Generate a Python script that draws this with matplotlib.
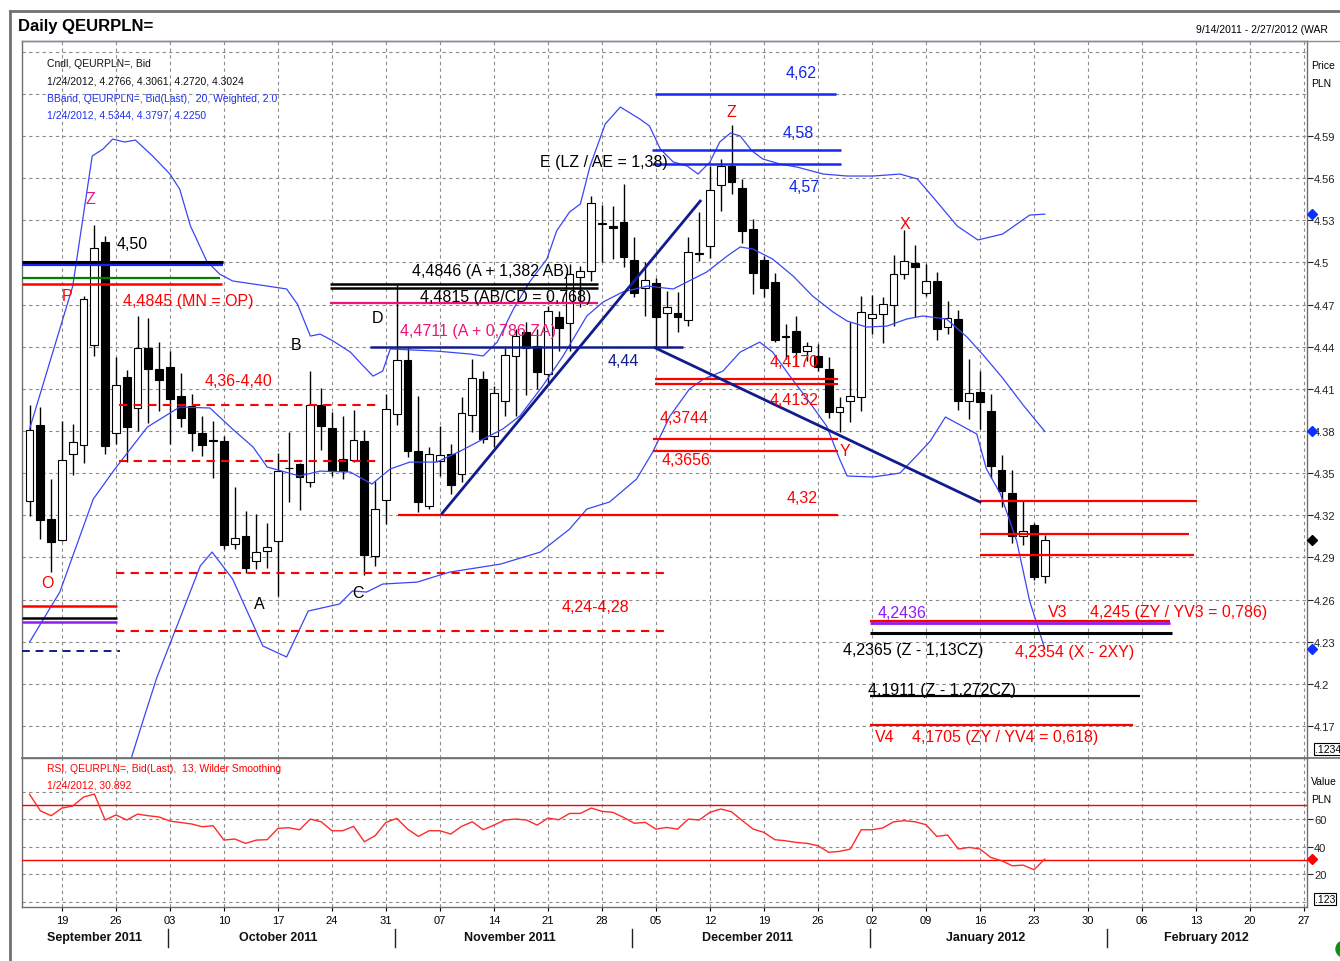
import matplotlib
matplotlib.use("Agg")
import matplotlib.pyplot as plt
import matplotlib.transforms as mtransforms
from matplotlib.lines import Line2D
from matplotlib.patches import Ellipse
import numpy as np
import pandas as pd

plt.rcParams['font.family'] = ['Liberation Sans', 'DejaVu Sans']

# ---------------- data ----------------
first_day, last_day, axis_end = '2011-09-14', '2012-01-24', '2012-02-27'

opens = [4.3304, 4.3843, 4.3174, 4.3026, 4.3636, 4.3703, 4.4414, 4.5147, 4.3784, 4.4187,
         4.3964, 4.4391, 4.4241, 4.4256, 4.4051, 4.3978, 4.3786, 4.3733, 4.3731, 4.2996,
         4.3053, 4.2875, 4.2946, 4.3019, 4.3537, 4.3565, 4.3437, 4.3985, 4.3821, 4.3601,
         4.3596, 4.3731, 4.2910, 4.3311, 4.3921, 4.4307, 4.3656, 4.3268, 4.3584, 4.3636,
         4.3494, 4.3914, 4.4170, 4.3767, 4.4011, 4.4336, 4.4503, 4.4403, 4.4206, 4.4609,
         4.4569, 4.4898, 4.4941, 4.5275, 4.5261, 4.5290, 4.5017, 4.4816, 4.4853, 4.4638,
         4.4640, 4.4588, 4.5068, 4.5115, 4.5553, 4.5684, 4.5530, 4.5238, 4.5019, 4.4863,
         4.4477, 4.4514, 4.4369, 4.4336, 4.4241, 4.3935, 4.4014, 4.4042, 4.4604, 4.4636,
         4.4697, 4.4921, 4.4996, 4.4782, 4.4868, 4.4539, 4.4600, 4.4015, 4.4080, 4.3946,
         4.3521, 4.3361, 4.3055, 4.3132, 4.2766]
highs = [4.3985, 4.3973, 4.3458, 4.3873, 4.3850, 4.4761, 4.5268, 4.5190, 4.4325, 4.4236,
         4.4621, 4.4604, 4.4433, 4.4372, 4.4213, 4.4063, 4.3909, 4.3873, 4.3767, 4.3404,
         4.3233, 4.3209, 4.3145, 4.3643, 4.3795, 4.3575, 4.4229, 4.4106, 4.3935, 4.3909,
         4.3950, 4.3809, 4.3446, 4.4063, 4.4839, 4.4398, 4.4047, 4.3686, 4.3838, 4.3708,
         4.4040, 4.4312, 4.4229, 4.4122, 4.4391, 4.4526, 4.4574, 4.4526, 4.4692, 4.4654,
         4.4989, 4.4977, 4.5475, 4.5408, 4.5403, 4.5558, 4.5179, 4.5001, 4.4889, 4.4799,
         4.4787, 4.5179, 4.5357, 4.5688, 4.5736, 4.5980, 4.5594, 4.5309, 4.5048, 4.4922,
         4.4562, 4.4616, 4.4433, 4.4419, 4.4325, 4.4042, 4.4575, 4.4761, 4.4768, 4.4754,
         4.5056, 4.5234, 4.5124, 4.4989, 4.4932, 4.4727, 4.4663, 4.4315, 4.4226, 4.4065,
         4.3633, 4.3521, 4.3303, 4.3145, 4.3061]
lows = [4.3197, 4.3031, 4.2794, 4.3020, 4.3487, 4.3570, 4.4334, 4.3636, 4.3708, 4.3579,
        4.3802, 4.3857, 4.3945, 4.3708, 4.3829, 4.3660, 4.3622, 4.3466, 4.2960, 4.2960,
        4.2789, 4.2818, 4.2825, 4.2628, 4.3295, 4.3238, 4.3401, 4.3667, 4.3482, 4.3458,
        4.3579, 4.2775, 4.2841, 4.3138, 4.3843, 4.3615, 4.3226, 4.3245, 4.3482, 4.3352,
        4.3435, 4.3791, 4.3712, 4.3684, 4.3909, 4.3909, 4.4058, 4.4099, 4.4140, 4.4367,
        4.4372, 4.4681, 4.4870, 4.5001, 4.5024, 4.4965, 4.4752, 4.4621, 4.4391, 4.4391,
        4.4502, 4.4547, 4.5008, 4.5031, 4.5368, 4.5487, 4.5136, 4.4775, 4.4756, 4.4436,
        4.4312, 4.4265, 4.4300, 4.4229, 4.3890, 4.3793, 4.3864, 4.3942, 4.4490, 4.4426,
        4.4551, 4.4882, 4.4615, 4.4761, 4.4448, 4.4493, 4.3951, 4.3888, 4.3818, 4.3463,
        4.3259, 4.3005, 4.2992, 4.2737, 4.2720]
closes = [4.3809, 4.3169, 4.3008, 4.3596, 4.3724, 4.4740, 4.5100, 4.3695, 4.4127, 4.3831,
          4.4391, 4.4241, 4.4165, 4.4028, 4.3893, 4.3786, 4.3700, 4.3730, 4.2989, 4.3041,
          4.2825, 4.2939, 4.2977, 4.3517, 4.3535, 4.3473, 4.3985, 4.3836, 4.3517, 4.3517,
          4.3736, 4.2917, 4.3245, 4.3957, 4.4307, 4.3658, 4.3297, 4.3636, 4.3629, 4.3418,
          4.3926, 4.4177, 4.3743, 4.4070, 4.4341, 4.4478, 4.4391, 4.4222, 4.4652, 4.4533,
          4.4917, 4.4941, 4.5423, 4.5280, 4.5245, 4.5036, 4.4782, 4.4877, 4.4609, 4.4680,
          4.4609, 4.5072, 4.5062, 4.5515, 4.5684, 4.5574, 4.5226, 4.4925, 4.4818, 4.4450,
          4.4470, 4.4360, 4.4405, 4.4254, 4.3933, 4.3974, 4.4049, 4.4647, 4.4633, 4.4704,
          4.4921, 4.5012, 4.4971, 4.4868, 4.4523, 4.4602, 4.4015, 4.4073, 4.4004, 4.3552,
          4.3374, 4.3055, 4.3089, 4.2763, 4.3024]

rsi = [78, 66, 62.4, 68, 69.5, 76, 78.2, 59.3, 63, 59.3,
       63.6, 62.4, 61.5, 58.5, 57.5, 56.4, 54.4, 55.1, 44.7, 45.5,
       42.3, 44.7, 45, 53.2, 53.7, 52.2, 60, 58, 51.5, 51.5,
       54.7, 43.5, 47.9, 57.6, 60.5, 52.7, 47.4, 51.5, 51.5, 49.1,
       54.7, 58, 52.2, 55.6, 59.3, 60, 59.3, 55.6, 60.7, 59.5,
       64.1, 64.1, 68, 65.6, 64.9, 61.2, 56.9, 57.6, 52.7, 53.9,
       52.7, 60, 59.3, 64.9, 67.3, 65.3, 58.8, 52.7, 50.3, 45,
       44.2, 43, 42.3, 40.6, 35.8, 36.5, 38.2, 52.2, 52.2, 53.5,
       58, 58.8, 58, 55.9, 47.4, 48.4, 38.2, 39.4, 38.2, 32.1,
       29.7, 26, 26.5, 23.1, 30.892]

# Bollinger bands (trading-day index, price)
bb_upper_x = [0, 2.8, 4.0, 5.8, 6.8, 7.7, 8.8, 9.8, 11.4, 13.0, 13.9, 14.9, 16.4, 17.6, 18.8,
              22.0, 23.8, 24.8, 26.0, 26.9, 28.1, 29.7, 30.9, 31.8, 32.7, 33.4, 37.7, 40.8,
              42.0, 43.3, 44.8, 46.3, 47.9, 48.8, 50.0, 51.0, 51.9, 53.3, 54.7, 56.5, 57.4,
              58.4, 59.6, 60.9, 61.9, 63.0, 63.9, 64.9, 65.8, 66.9, 67.9, 69.5, 71.1, 73.5,
              75.7, 78.1, 80.6, 82.2, 83.8, 85.9, 87.8, 90.1, 92.6, 94.0]
bb_upper = [4.3814, 4.4526, 4.4832, 4.5757, 4.5807, 4.5878, 4.5857, 4.5871, 4.5757, 4.5629,
            4.5522, 4.5259, 4.5010, 4.4917, 4.4868, 4.4832, 4.4811, 4.4704, 4.4476, 4.4490,
            4.4441, 4.4362, 4.4263, 4.4191, 4.4227, 4.4384, 4.4369, 4.4348, 4.4334, 4.4433,
            4.4668, 4.4861, 4.5024, 4.5224, 4.5359, 4.5416, 4.5686, 4.5985, 4.6106, 4.6021,
            4.5971, 4.5807, 4.5715, 4.5686, 4.5629, 4.5715, 4.5857, 4.5921, 4.5900, 4.5793,
            4.5736, 4.5700, 4.5678, 4.5629, 4.5615, 4.5615, 4.5629, 4.5594, 4.5451, 4.5259,
            4.5160, 4.5202, 4.5337, 4.5344]
bb_mid_x = [0, 2.8, 5.9, 7.9, 10.9, 13.9, 16.7, 18.8, 20.7, 22.0, 25.0, 26.9, 29.7, 31.7,
            33.4, 35.2, 37.7, 39.9, 42.0, 43.8, 45.4, 47.5, 49.4, 51.6, 53.1, 54.9, 57.2,
            59.6, 62.7, 64.6, 65.8, 67.0, 68.8, 70.7, 72.5, 74.4, 75.7, 77.5, 79.4, 81.2,
            82.7, 84.9, 86.8, 88.3, 90.1, 92.0, 94.0]
bb_mid = [4.2298, 4.2654, 4.3316, 4.3530, 4.3828, 4.3971, 4.3964, 4.3814, 4.3686, 4.3544,
          4.3480, 4.3515, 4.3508, 4.3423, 4.3530, 4.3579, 4.3579, 4.3658, 4.3743, 4.3814,
          4.3907, 4.4120, 4.4334, 4.4619, 4.4718, 4.4789, 4.4832, 4.4811, 4.4932, 4.5046,
          4.5110, 4.5095, 4.5024, 4.4903, 4.4761, 4.4647, 4.4583, 4.4540, 4.4547, 4.4597,
          4.4619, 4.4597, 4.4469, 4.4341, 4.4177, 4.3985, 4.3797]
bb_lower_x = [9.1, 10.7, 11.8, 13.9, 15.8, 16.9, 18.8, 21.6, 23.8, 25.8, 28.7, 29.9, 31.2,
              32.7, 35.9, 37.4, 38.9, 43.6, 47.3, 50.0, 51.6, 53.7, 56.2, 57.7, 59.3, 61.1,
              62.4, 64.2, 65.8, 67.6, 68.8, 70.4, 72.0, 73.8, 75.0, 75.7, 78.1, 80.6, 82.2,
              83.4, 84.8, 87.7, 88.6, 89.9, 91.4, 92.6, 94.0]
bb_lower = [4.1395, 4.1786, 4.2049, 4.2462, 4.2839, 4.2939, 4.2747, 4.2270, 4.2192, 4.2519,
            4.2569, 4.2662, 4.2654, 4.2711, 4.2725, 4.2761, 4.2796, 4.2853, 4.2939, 4.3102,
            4.3245, 4.3295, 4.3458, 4.3651, 4.3907, 4.4099, 4.4170, 4.4227, 4.4362, 4.4433,
            4.4362, 4.4191, 4.4028, 4.3836, 4.3601, 4.3480, 4.3473, 4.3501, 4.3629, 4.3729,
            4.3900, 4.3779, 4.3530, 4.3352, 4.3017, 4.2590, 4.2250]

price_ticks = [4.17, 4.20, 4.23, 4.26, 4.29, 4.32, 4.35, 4.38, 4.41, 4.44, 4.47, 4.50, 4.53, 4.56, 4.59]
price_grid_extra = [4.62, 4.65]
rsi_ticks = [20, 40, 60]
rsi_grid_extra = [0, 80]
rsi_levels = [70, 30]
last_bb = [4.5344, 4.3797, 4.2250]
last_close = 4.3024
last_rsi = 30.892

# annotation levels: (price, from day, to day)
lvl_left_black = (4.5006, -0.7, 17.9)
lvl_left_blue = (4.4981, -0.7, 17.9)
lvl_left_green = (4.4891, -0.7, 17.6)
lvl_left_red = (4.4845, -0.7, 17.8)
lvl_bl_red = (4.2553, -0.7, 8.1)
lvl_bl_black = (4.2467, -0.7, 8.1)
lvl_bl_purple = (4.2443, -0.7, 8.1)
lvl_bl_navy = (4.2232, -0.7, 8.4)
zone1 = (4.3985, 4.3584, 8.3, 32.4)
zone2 = (4.2789, 4.2379, 8.0, 59.3)
lvl_ab1 = (4.4846, 27.8, 52.6)
lvl_ab2 = (4.4815, 27.8, 52.6)
lvl_za = (4.4711, 27.8, 52.6)
lvl_444 = (4.44, 31.5, 60.5)
lvl_blue = [(4.62, 57.9, 74.7), (4.58, 57.6, 75.1), (4.57, 57.6, 75.1)]
lvl_red_mid = [(4.4170, 57.9, 74.9), (4.4132, 57.9, 74.9), (4.3744, 57.7, 74.9),
               (4.3656, 57.7, 74.9), (4.32, 34.1, 74.9)]
lvl_red_right = [(4.3304, 88.0, 108.1), (4.3070, 88.0, 107.4), (4.2917, 88.0, 107.8)]
lvl_v3 = (4.245, 77.8, 105.6)
lvl_2436 = (4.2436, 77.8, 105.6)
lvl_2365 = (4.2365, 77.8, 105.8)
lvl_1911 = (4.1911, 77.8, 102.8)
lvl_1705 = (4.1705, 77.8, 102.2)
trend_up = ([38.2, 62.1], [4.3214, 4.5437])
trend_down = ([57.9, 88.0], [4.4393, 4.3295])

RED = '#FF0000'
PINK = '#F0147A'
NAVY = '#101C8C'
BLUE = '#1428F0'
BB = '#3A46F5'
PURPLE = '#8E1CF5'
GRID = '#8C8C8C'

# ---------------- figure ----------------
W, H = 1340, 962
fig = plt.figure(figsize=(W / 100, H / 100), dpi=100)


def rect(l, t, r, b):
    return [l / W, 1 - b / H, (r - l) / W, (b - t) / H]


ax = fig.add_axes(rect(22, 42, 1307, 759))
ax2 = fig.add_axes(rect(22, 759, 1307, 908), sharex=ax)

days = pd.bdate_range(first_day, last_day)
axis_days = pd.bdate_range(first_day, axis_end)
x = np.arange(len(days))
o = np.array(opens); h = np.array(highs); l = np.array(lows); c = np.array(closes)

ax.set_xlim(-0.7, len(axis_days) - 1 + 0.28)
ax.set_ylim(4.1473, 4.6576)
ax2.set_ylim(-3.96, 104.4)

# grid
mondays = [i for i, d in enumerate(axis_days) if d.weekday() == 0]
for a in (ax, ax2):
    a.set_xticks(mondays)
    a.grid(True, color=GRID, ls=(0, (3, 3)), lw=0.8, zorder=0)
    a.set_axisbelow(True)
    for s in a.spines.values():
        s.set_color('#707070')
        s.set_linewidth(1.0)
ax.set_yticks(price_ticks)
ax.set_yticklabels(['{:g}'.format(round(v, 2)) for v in price_ticks])
for g in price_grid_extra:
    ax.axhline(g, color=GRID, ls=(0, (3, 3)), lw=0.8, zorder=0)
ax2.set_yticks(rsi_ticks)
for g in rsi_grid_extra:
    ax2.axhline(g, color=GRID, ls=(0, (3, 3)), lw=0.8, zorder=0)

for a in (ax, ax2):
    a.yaxis.tick_right()
    a.tick_params(axis='y', labelsize=8, length=4, pad=1, colors='#222222')
ax.tick_params(axis='x', length=0, labelbottom=False)
ax2.tick_params(axis='x', labelsize=8, length=3, pad=3)
ax2.set_xticklabels([axis_days[i].strftime('%d') for i in mondays])
ax.spines['bottom'].set_visible(False)

# candles
up = c >= o
ax.vlines(x, l, h, color='black', lw=1.0, zorder=3)
body = np.maximum(np.abs(c - o), 0.0005)
ax.bar(x, body, bottom=np.minimum(o, c), width=0.72,
       color=np.where(up, 'white', 'black'), edgecolor='black', lw=0.8, zorder=3.5)

# bollinger
ax.plot(bb_upper_x, bb_upper, color=BB, lw=0.9, zorder=4)
ax.plot(bb_mid_x, bb_mid, color=BB, lw=0.9, zorder=4)
ax.plot(bb_lower_x, bb_lower, color=BB, lw=0.9, zorder=4)


def hl(level, color, lw=1.6, ls='-'):
    p, a, b = level
    ax.plot([a, b], [p, p], color=color, lw=lw, ls=ls, zorder=5, solid_capstyle='butt')


hl(lvl_left_black, 'black', 2.2)
hl(lvl_left_blue, BLUE, 1.6)
hl(lvl_left_green, '#008000', 1.6)
hl(lvl_left_red, RED, 1.8)
hl(lvl_bl_red, RED, 1.8)
hl(lvl_bl_black, 'black', 1.8)
hl(lvl_bl_purple, PURPLE, 1.8)
hl(lvl_bl_navy, NAVY, 1.4, (0, (4, 3)))
for z in (zone1, zone2):
    hl((z[0], z[2], z[3]), RED, 1.5, (0, (4, 3)))
    hl((z[1], z[2], z[3]), RED, 1.5, (0, (4, 3)))
hl(lvl_ab1, 'black', 1.8)
hl(lvl_ab2, 'black', 1.8)
hl(lvl_za, PINK, 1.6)
hl(lvl_444, NAVY, 1.8)
for lv in lvl_blue:
    hl(lv, BLUE, 1.8)
for lv in lvl_red_mid:
    hl(lv, RED, 1.6)
for lv in lvl_red_right:
    hl(lv, RED, 1.6)
hl(lvl_2365, 'black', 2.2)
hl(lvl_2436, PURPLE, 2.0)
hl(lvl_v3, RED, 1.6)
hl(lvl_1911, 'black', 1.6)
hl(lvl_1705, RED, 1.6)
ax.plot(*trend_up, color=NAVY, lw=2.0, zorder=5)
ax.plot(*trend_down, color=NAVY, lw=2.0, zorder=5)

FS = 11.5
texts = [
    (8.09, 4.5138, '4,50', 'black', 'left'),
    (8.65, 4.4732, '4,4845 (MN = OP)', RED, 'left'),
    (3.46, 4.4768, 'P', RED, 'center'),
    (5.59, 4.5458, 'Z', PINK, 'center'),
    (1.61, 4.2725, 'O', RED, 'center'),
    (16.24, 4.4163, '4,36-4,40', RED, 'left'),
    (24.67, 4.4419, 'B', 'black', 'center'),
    (21.24, 4.2576, 'A', 'black', 'center'),
    (30.41, 4.2654, 'C', 'black', 'center'),
    (32.26, 4.4611, 'D', 'black', 'center'),
    (35.41, 4.4946, '4,4846 (A + 1,382 AB)', 'black', 'left'),
    (36.15, 4.4761, '4,4815 (AB/CD = 0,768)', 'black', 'left'),
    (34.30, 4.4519, '4,4711 (A + 0,786 ZA)', PINK, 'left'),
    (53.56, 4.4305, '4,44', NAVY, 'left'),
    (47.26, 4.5715, 'E (LZ / AE = 1,38)', 'black', 'left'),
    (70.04, 4.6355, '4,62', BLUE, 'left'),
    (64.94, 4.6077, 'Z', RED, 'center'),
    (69.76, 4.5928, '4,58', BLUE, 'left'),
    (70.31, 4.5544, '4,57', BLUE, 'left'),
    (81.06, 4.5280, 'X', RED, 'center'),
    (68.56, 4.4298, '4,4170', RED, 'left'),
    (68.56, 4.4021, '4,4132', RED, 'left'),
    (58.37, 4.3893, '4,3744', RED, 'left'),
    (58.56, 4.3595, '4,3656', RED, 'left'),
    (75.50, 4.3659, 'Y', RED, 'center'),
    (70.13, 4.3330, '4,32', RED, 'left'),
    (49.30, 4.2548, '4,24-4,28', RED, 'left'),
    (78.56, 4.2506, '4,2436', PURPLE, 'left'),
    (94.30, 4.2513, 'V3', RED, 'left'),
    (98.19, 4.2513, '4,245 (ZY / YV3 = 0,786)', RED, 'left'),
    (75.31, 4.2247, '4,2365 (Z - 1,13CZ)', 'black', 'left'),
    (91.24, 4.2233, '4,2354 (X - 2XY)', RED, 'left'),
    (77.63, 4.1964, '4,1911 (Z - 1,272CZ)', 'black', 'left'),
    (78.26, 4.1623, 'V4', RED, 'left'),
    (81.70, 4.1623, '4,1705 (ZY / YV4 = 0,618)', RED, 'left'),
]
for tx, ty, s, col, ha in texts:
    ax.text(tx, ty, s, color=col, fontsize=FS, ha=ha, va='center', zorder=6)


# legend texts
def fx(px):
    return px / W


def fy(py):
    return 1 - py / H


fig.text(fx(47), fy(64), 'Cndl, QEURPLN=, Bid', fontsize=7.5, va='center', color='#111111')
fig.text(fx(47), fy(82), '1/24/2012, 4.2766, 4.3061, 4.2720, 4.3024', fontsize=7.5, va='center', color='#111111')
fig.text(fx(47), fy(99), 'BBand, QEURPLN=, Bid(Last),  20, Weighted, 2.0', fontsize=7.5, va='center', color='#2030F0')
fig.text(fx(47), fy(116), '1/24/2012, 4.5344, 4.3797, 4.2250', fontsize=7.5, va='center', color='#2030F0')
fig.text(fx(47), fy(769), 'RSI, QEURPLN=, Bid(Last),  13, Wilder Smoothing', fontsize=7.5, va='center', color=RED)
fig.text(fx(47), fy(786), '1/24/2012, 30.892', fontsize=7.5, va='center', color=RED)

fig.text(fx(18), fy(27), 'Daily QEURPLN=', fontsize=12, fontweight='bold', va='center')
fig.text(fx(1196), fy(30), '9/14/2011 - 2/27/2012 (WAR', fontsize=7.5, va='center')
fig.text(fx(1311), fy(66), 'Price', fontsize=7.5, va='center')
fig.text(fx(1311), fy(84), 'PLN', fontsize=7.5, va='center')
fig.text(fx(1311), fy(782), 'Value', fontsize=7.5, va='center')
fig.text(fx(1311), fy(800), 'PLN', fontsize=7.5, va='center')
fig.text(fx(1315), fy(750), '.1234', fontsize=7.5, va='center',
         bbox=dict(boxstyle='square,pad=0.1', fc='white', ec='black', lw=0.8))
fig.text(fx(1315), fy(900), '.123', fontsize=7.5, va='center',
         bbox=dict(boxstyle='square,pad=0.1', fc='white', ec='black', lw=0.8))

# right-axis markers
tr = mtransforms.blended_transform_factory(ax.transAxes, ax.transData)
ax.plot([1.004] * 3, last_bb, 'D', color='#1030FF', ms=5, transform=tr, clip_on=False, zorder=7)
ax.plot([1.004], [last_close], 'D', color='black', ms=5, transform=tr, clip_on=False, zorder=7)
tr2 = mtransforms.blended_transform_factory(ax2.transAxes, ax2.transData)
ax2.plot([1.004], [last_rsi], 'D', color=RED, ms=5, transform=tr2, clip_on=False, zorder=7)

# RSI
ax2.plot(x, rsi, color='#FF2A2A', lw=1.0, zorder=4)
for lv in rsi_levels:
    ax2.axhline(lv, color=RED, lw=1.0, zorder=3)

# month labels and separators
trm = mtransforms.blended_transform_factory(ax2.transData, fig.transFigure)
months = pd.Series(np.arange(len(axis_days)), index=axis_days)
groups = months.groupby([axis_days.year, axis_days.month])
for k, (key, grp) in enumerate(groups):
    centre = (grp.values.min() + grp.values.max()) / 2
    name = grp.index[0].strftime('%B %Y')
    ax2.text(centre, fy(938), name, transform=trm, ha='center', va='center',
             fontsize=9, fontweight='bold', color='#111111')
    if k > 0:
        sx = grp.values.min() - 0.2
        ax2.add_line(Line2D([sx, sx], [fy(930), fy(948)], transform=trm, color='#222222',
                            lw=1.0, clip_on=False))

# frame lines
for line in [
    Line2D([fx(10), fx(10)], [fy(12), fy(962)], color='#707070', lw=2),
    Line2D([fx(10), 1], [fy(12), fy(12)], color='#707070', lw=2),
    Line2D([fx(22), 1], [fy(42), fy(42)], color='#8090A0', lw=1),
    Line2D([fx(22), 1], [fy(759), fy(759)], color='#707070', lw=1.2),
]:
    fig.add_artist(line)
fig.add_artist(Ellipse((fx(1344), fy(950)), 16 / W, 16 / H, transform=fig.transFigure,
                       color='#109010'))

fig.savefig('out.png', dpi=100)
